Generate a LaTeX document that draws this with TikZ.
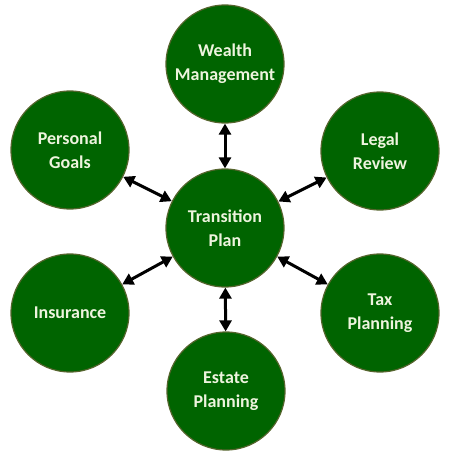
\documentclass[tikz,border=0pt]{standalone}
\usepackage{fontspec}
\setmainfont{Carlito}
\usetikzlibrary{arrows.meta}
\definecolor{leaf}{RGB}{0,100,0}
\definecolor{rim}{RGB}{85,100,45}
\definecolor{cream}{RGB}{238,244,222}

\begin{document}
\begin{tikzpicture}[x=1pt,y=-1pt,
    goal/.style={circle,fill=leaf,draw=rim,line width=1.2pt,minimum size=118pt,
      inner sep=0pt,text=cream,align=center,font=\bfseries\fontsize{18}{24}\selectfont},
    link/.style={{Triangle[length=11pt,width=12pt]}-{Triangle[length=11pt,width=12pt]},line width=3pt}]
  \useasboundingbox (0,0) rectangle (449,459);
  \node[goal] (plan) at (225,228) {Transition\\Plan};
  \node[goal] (wealth) at (225,64) {Wealth\\Management};
  \node[goal] (goals) at (70,150) {Personal\\Goals};
  \node[goal] (legal) at (380,151) {Legal\\Review};
  \node[goal] (insure) at (70,313) {Insurance};
  \node[goal] (tax) at (380,313) {Tax\\Planning};
  \node[goal] (estate) at (226,391) {Estate\\Planning};
  % spokes out from the middle
  \foreach \n in {wealth,goals,legal,insure,tax,estate}
    \draw[link] (plan) -- (\n);
\end{tikzpicture}
\end{document}
